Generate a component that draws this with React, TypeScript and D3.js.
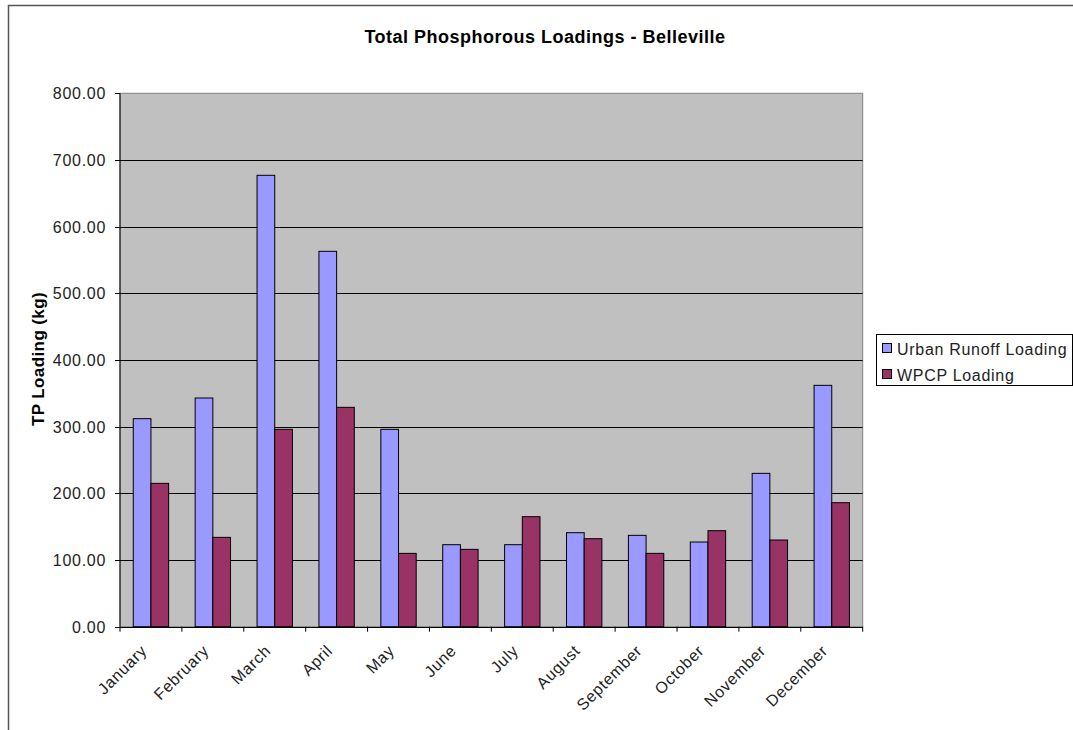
import React from "react";
import * as d3 from "d3";

const months = ["January","February","March","April","May","June","July","August","September","October","November","December"];
const urbanRunoff = [312, 343, 677, 563, 296, 123, 123, 141, 137, 127, 230, 362];
const wpcp = [215, 134, 296, 329, 110, 116, 165, 132, 110, 144, 130, 186];
const seriesNames = ["Urban Runoff Loading", "WPCP Loading"];
const seriesColors = ["#9999FF", "#993366"];
const yTicks = [0, 100, 200, 300, 400, 500, 600, 700, 800];
const title = "Total Phosphorous Loadings - Belleville";
const yLabel = "TP Loading (kg)";

export default function App() {
  const W = 1073, H = 730;
  const left = 120, right = 862.7, top = 93.3, bottom = 626.7;
  const x0 = d3.scaleBand<string>().domain(months).range([left, right]).padding(0);
  const x1 = d3.scaleBand<number>().domain([0, 1]).range([0, x0.bandwidth()]).paddingInner(0).paddingOuter(0.75);
  const y = d3.scaleLinear().domain([0, 800]).range([bottom, top]);
  const fmt = d3.format(".2f");
  const data = [urbanRunoff, wpcp];
  const font = "Arial, 'Liberation Sans', sans-serif";

  return (
    <div style={{ position: "absolute", left: 0, top: 0 }}>
      <svg width={W} height={H} style={{ display: "block", fontFamily: font }}>
        <rect x={0} y={0} width={W} height={H} fill="#fff" />
        {/* outer chart border */}
        <path d={`M8.5,${H} V5.5 H${W}`} fill="none" stroke="#555" strokeWidth={1.5} />
        <text x={545} y={43} textAnchor="middle" fontSize={18} fontWeight="bold" letterSpacing={0.5} fill="#000">{title}</text>

        {/* plot area */}
        <rect x={left} y={top} width={right - left} height={bottom - top} fill="#C0C0C0" stroke="#808080" strokeWidth={1} />
        {yTicks.filter(t => t > 0 && t < 800).map(t => (
          <line key={t} x1={left} x2={right} y1={Math.round(y(t)) + 0.5} y2={Math.round(y(t)) + 0.5} stroke="#000" strokeWidth={1} />
        ))}

        {/* bars */}
        {months.map((m, i) => (
          <g key={m} transform={`translate(${x0(m)},0)`}>
            {data.map((s, k) => (
              <rect key={k} x={x1(k)} y={y(s[i])} width={x1.bandwidth()} height={y(0) - y(s[i])}
                fill={seriesColors[k]} stroke="#000" strokeWidth={1} />
            ))}
          </g>
        ))}

        {/* y axis */}
        <line x1={left} x2={left} y1={top} y2={bottom} stroke="#000" strokeWidth={1} />
        {yTicks.map(t => (
          <g key={t}>
            <line x1={left - 5} x2={left} y1={Math.round(y(t)) + 0.5} y2={Math.round(y(t)) + 0.5} stroke="#000" />
            <text x={106} y={y(t) + 6} textAnchor="end" fontSize={16} letterSpacing={0.7} fill="#222">{fmt(t)}</text>
          </g>
        ))}
        <text transform={`translate(44,359) rotate(-90)`} textAnchor="middle" fontSize={17} fontWeight="bold" letterSpacing={0.4} fill="#000">{yLabel}</text>

        {/* x axis */}
        <line x1={left} x2={right} y1={Math.round(bottom) + 0.5} y2={Math.round(bottom) + 0.5} stroke="#000" />
        {[...months.map(m => x0(m) as number), right].map((xv, i) => (
          <line key={i} x1={xv} x2={xv} y1={bottom} y2={bottom + 5} stroke="#000" />
        ))}
        {months.map(m => {
          const cx = (x0(m) as number) + x0.bandwidth() / 2;
          return (
            <text key={m} transform={`translate(${cx - 3},${bottom + 25}) rotate(-45)`} textAnchor="end" fontSize={16} letterSpacing={0.7} fill="#222">{m}</text>
          );
        })}

        {/* legend */}
        <rect x={876.5} y={334.5} width={196} height={51} fill="#fff" stroke="#000" strokeWidth={1} />
        {seriesNames.map((n, k) => (
          <g key={n}>
            <rect x={882.5} y={343.5 + k * 26} width={9} height={9} fill={seriesColors[k]} stroke="#000" />
            <text x={897} y={354.5 + k * 26} fontSize={16} letterSpacing={0.7} fill="#222">{n}</text>
          </g>
        ))}
      </svg>
    </div>
  );
}
